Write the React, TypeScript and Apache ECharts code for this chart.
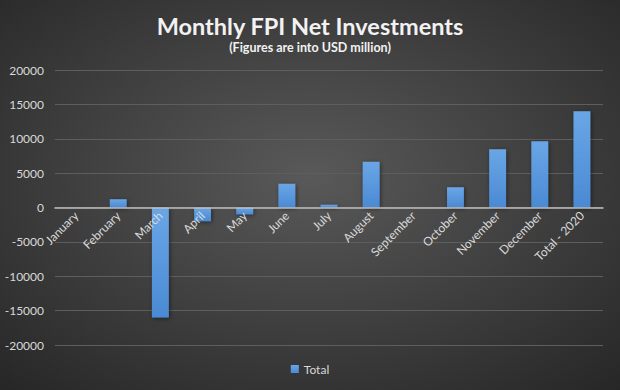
import React, { useEffect, useRef } from "react";
import * as echarts from "echarts";

const categories = [
  "January", "February", "March", "April", "May", "June", "July",
  "August", "September", "October", "November", "December", "Total - 2020",
];
const totals = [0, 1200, -16000, -2000, -1000, 3450, 400, 6650, 0, 2950, 8470, 9640, 14000];
const yTicks = { min: -20000, max: 20000, interval: 5000 };

const GRID_TOP = 70;
const GRID_BOTTOM = 45;
const HEIGHT = 390;

export default function App() {
  const ref = useRef<HTMLDivElement>(null);
  useEffect(() => {
    const chart = echarts.init(ref.current!, null, { renderer: "svg" });
    const gridH = HEIGHT - GRID_TOP - GRID_BOTTOM;
    const zeroOffset = -gridH * (0 - yTicks.min) / (yTicks.max - yTicks.min);
    chart.setOption({
      animation: false,
      backgroundColor: {
        type: "radial", x: 0.5, y: 0.45, r: 0.75,
        colorStops: [
          { offset: 0, color: "#595959" },
          { offset: 1, color: "#262626" },
        ],
      },
      title: {
        text: "Monthly FPI Net Investments",
        subtext: "(Figures are into USD million)",
        left: "center",
        top: 9,
        itemGap: 3,
        textStyle: { color: "#f2f2f2", fontFamily: "Lato", fontWeight: "bold", fontSize: 23.5 },
        subtextStyle: { color: "#f2f2f2", fontFamily: "Lato", fontWeight: "bold", fontSize: 12.5 },
      },
      legend: {
        bottom: 10,
        left: "center",
        itemWidth: 8,
        itemHeight: 8,
        itemGap: 4,
        icon: "rect",
        textStyle: { color: "#d9d9d9", fontFamily: "Lato", fontSize: 12 },
      },
      grid: { left: 55, right: 17, top: GRID_TOP, bottom: GRID_BOTTOM },
      xAxis: {
        type: "category",
        data: categories,
        position: "bottom",
        offset: zeroOffset,
        z: 10,
        axisLine: { onZero: false, lineStyle: { color: "#bfbfbf", width: 1.5 } },
        axisTick: { show: false },
        axisLabel: {
          rotate: 45, interval: 0, color: "#d9d9d9", fontFamily: "Lato", fontSize: 12, margin: 6,
        },
      },
      yAxis: {
        type: "value",
        min: yTicks.min,
        max: yTicks.max,
        interval: yTicks.interval,
        axisLine: { show: false },
        axisTick: { show: false },
        axisLabel: {
          color: "#d9d9d9", fontFamily: "Lato", fontSize: 12, margin: 11,
          formatter: (v: number) => String(v),
        },
        splitLine: { lineStyle: { color: "#5e5e5e", width: 1 } },
      },
      series: [
        {
          name: "Total",
          type: "bar",
          data: totals,
          barWidth: "40%",
          z: 2,
          itemStyle: {
            color: {
              type: "linear", x: 0, y: 0, x2: 0, y2: 1,
              colorStops: [
                { offset: 0, color: "#6aa6e6" },
                { offset: 1, color: "#4a8ad4" },
              ],
            },
            shadowColor: "rgba(0,0,0,0.5)",
            shadowBlur: 4,
            shadowOffsetX: 1,
            shadowOffsetY: 1,
          },
        },
      ],
    });
    return () => chart.dispose();
  }, []);
  return (
    <div
      ref={ref}
      style={{ position: "absolute", left: 0, top: 0, width: 620, height: 390 }}
    />
  );
}
